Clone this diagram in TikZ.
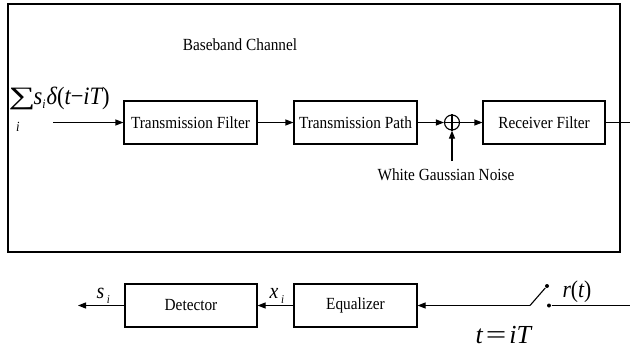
\documentclass[tikz,border=0pt]{standalone}
\usepackage{fontspec}
\setmainfont{Liberation Serif}
\newfontfamily\narrow[FakeStretch=0.9]{Liberation Serif}
\usetikzlibrary{arrows.meta}
\begin{document}
\begin{tikzpicture}[x=1pt,y=-1pt,
  line width=1.1pt,
  blk/.style={draw, line width=1.1pt, minimum height=43pt, inner sep=0pt,
    font=\narrow\fontsize{17}{19}\selectfont},
  lbl/.style={inner sep=0pt, font=\narrow\fontsize{17}{19}\selectfont},
  mth/.style={inner sep=0pt, font=\narrow\fontsize{22}{24}\selectfont\itshape},
  conn/.style={line width=1.1pt, -{Triangle[length=8pt,width=6pt]}},
  dot/.style={circle, fill, inner sep=0pt, minimum size=4pt},
  ]
\useasboundingbox (0,0) rectangle (630,349);
% frame
\node[draw, line width=1.1pt, minimum width=612pt, minimum height=248pt, inner sep=0pt] (frame) at (314,128) {};
\node[lbl] (bbc) at (240,45) {Baseband Channel};
% top row
\node[blk, minimum width=133pt] (tf) at (190.5,122.5) {Transmission Filter};
\node[blk, minimum width=123pt] (tp) at (355.5,122.5) {Transmission Path};
\node[blk, minimum width=122pt] (rf) at (544,122.5) {Receiver Filter};
\node[circle, draw, line width=1.1pt, minimum size=15pt, inner sep=0pt] (add) at (452,122.5) {};
\draw (add.north) -- (add.south) (add.west) -- (add.east);
\coordinate (in) at (53,122.5);
\coordinate (noise) at (452,161);
\coordinate (rfout) at (630,122.5);
\draw[conn] (in) -- (tf.west);
\draw[conn] (tf.east) -- (tp.west);
\draw[conn] (tp.east) -- (add.west);
\draw[conn] (add.east) -- (rf.west);
\draw[conn] (noise) -- (add.south);
\draw (rf.east) -- (rfout);
\node[lbl, anchor=north] (wgn) at (446,168) {White Gaussian Noise};
% input label
\node[inner sep=0pt, anchor=base west] (sum) at (8,104) {\scalebox{1.5}[1]{\fontsize{25}{25}\selectfont ∑}};
\node[inner sep=0pt, anchor=base west, font=\narrow\fontsize{25}{27}\selectfont\itshape] (sig) at (33,104) {s\raisebox{-4pt}{\fontsize{13}{13}\selectfont i}\kern1ptδ{\upshape(}t{\upshape −}iT{\upshape)}};
\node[inner sep=0pt, font=\narrow\fontsize{14}{14}\selectfont\itshape] (sumi) at (18,127) {i};
% bottom row
\node[blk, minimum width=132pt] (det) at (191,305.5) {Detector};
\node[blk, minimum width=123pt] (eq) at (355.5,305.5) {Equalizer};
\coordinate (sout) at (78,305.5);
\coordinate (sw) at (530,305.5);
\node[dot] (d1) at (547,286) {};
\node[dot] (d2) at (549,305.5) {};
\coordinate (rin) at (630,305.5);
\draw[conn] (det.west) -- (sout);
\draw[conn] (eq.west) -- (det.east);
\draw[conn] (sw) -- (eq.east);
\draw (sw) -- (d1);
\draw (d2) -- (rin);
\node[mth, anchor=base west] (si) at (96,298) {s\raisebox{-5pt}{\fontsize{12}{12}\selectfont\ i}};
\node[mth, anchor=base west] (xi) at (269,298) {x\raisebox{-5pt}{\fontsize{12}{12}\selectfont\ i}};
\node[inner sep=0pt, anchor=base west, font=\narrow\fontsize{24}{26}\selectfont\itshape] (rt) at (562,297) {r{\upshape(}t{\upshape)}};
\node[inner sep=0pt, anchor=base west, font=\fontsize{26}{28}\selectfont\itshape] (tit) at (475,343) {t\kern3pt\scalebox{1.4}[1]{\upshape =}\kern3pt iT};
\end{tikzpicture}
\end{document}
